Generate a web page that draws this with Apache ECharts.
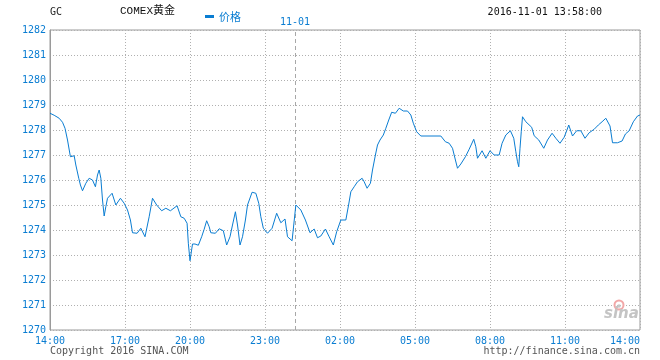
<!DOCTYPE html>
<html>
<head>
<meta charset="utf-8">
<script src="https://cdn.jsdelivr.net/npm/echarts@6/dist/echarts.min.js"></script>
<style>html,body{margin:0;padding:0;background:#fff;}#c{width:660px;height:360px;}</style>
</head>
<body>
<div id="c"></div>
<script>
// trading-minute index since 14:00 (session has a short gap between 17:00 and 20:00)
var minuteIdx = [0,10,22,30,36,42,49,58,62,69,73,78,86,94,102,109,114,118,122,126,130,134,138,149,158,169,178,186,193,198,209,218,228,238,246,256,268,278,289,305,314,322,329,332,336,342,348,356,364,370,376,382,386,397,406,416,424,432,438,445,450,456,462,469,474,485,494,501,506,512,522,533,544,554,564,570,581,585,590,602,613,624,634,642,650,661,670,680,688,698,710,717,722,730,738,749,754,761,769,774,781,786,792,800,806,813,820,829,838,848,858,866,872,880,890,938,949,958,966,973,978,986,997,1006,1017,1022,1026,1037,1046,1056,1066,1078,1085,1094,1105,1113,1118,1122,1125,1128,1131,1134,1142,1156,1162,1173,1185,1194,1205,1214,1224,1234,1240,1245,1254,1264,1274,1284,1294,1306,1316,1325,1334,1344,1350,1362,1373,1381,1390,1400,1410,1416];
var price = [1278.67,1278.59,1278.47,1278.31,1278.07,1277.60,1276.93,1276.97,1276.60,1276.07,1275.80,1275.57,1275.87,1276.07,1276.00,1275.73,1276.20,1276.40,1276.07,1275.20,1274.56,1274.93,1275.27,1275.47,1275.00,1275.27,1275.07,1274.80,1274.40,1273.89,1273.87,1274.07,1273.73,1274.53,1275.27,1275.00,1274.77,1274.87,1274.77,1274.97,1274.53,1274.47,1274.27,1273.47,1272.77,1273.44,1273.44,1273.39,1273.73,1274.03,1274.37,1274.13,1273.89,1273.87,1274.05,1273.97,1273.40,1273.73,1274.20,1274.73,1274.20,1273.40,1273.73,1274.40,1275.00,1275.51,1275.47,1275.07,1274.53,1274.07,1273.87,1274.07,1274.67,1274.29,1274.44,1273.73,1273.57,1273.60,1275.00,1274.80,1274.40,1273.89,1274.04,1273.69,1273.76,1274.04,1273.73,1273.40,1273.93,1274.40,1274.40,1275.04,1275.53,1275.73,1275.93,1276.07,1275.93,1275.67,1275.87,1276.40,1277.00,1277.40,1277.60,1277.80,1278.07,1278.40,1278.71,1278.67,1278.87,1278.76,1278.76,1278.60,1278.27,1277.93,1277.76,1277.76,1277.53,1277.47,1277.27,1276.80,1276.47,1276.64,1276.93,1277.23,1277.63,1277.33,1276.87,1277.17,1276.87,1277.17,1277.00,1277.00,1277.47,1277.80,1277.97,1277.67,1277.13,1276.73,1276.53,1277.27,1277.93,1278.53,1278.33,1278.11,1277.77,1277.60,1277.27,1277.60,1277.87,1277.67,1277.47,1277.71,1277.97,1278.20,1277.76,1277.97,1277.97,1277.67,1277.89,1278.03,1278.20,1278.33,1278.47,1278.16,1277.49,1277.49,1277.56,1277.84,1277.97,1278.33,1278.56,1278.60];
var tickValues = [0,180,336,516,696,876,1056,1236,1416];
var tickLabels = ['14:00','17:00','20:00','23:00','02:00','05:00','08:00','11:00','14:00'];
var dayBreakIdx = 588;
var dayBreakLabel = '11-01';

var BLUE = '#0a7dd2';
var MONO = "'DejaVu Sans Mono', monospace";
var seriesData = minuteIdx.map(function (m, i) { return [m, price[i]]; });
var labelMap = {};
tickValues.forEach(function (v, i) { labelMap[v] = tickLabels[i]; });

var chart = echarts.init(document.getElementById('c'), null, {renderer: 'canvas'});
chart.setOption({
  animation: false,
  backgroundColor: '#fff',
  grid: {left: 50, right: 20, top: 30, bottom: 30, show: true, borderColor: '#9a9a9a', borderWidth: 1},
  legend: {
    data: ['价格'], left: 200, top: 6, icon: 'rect', itemWidth: 9, itemHeight: 3, itemGap: 5,
    textStyle: {color: BLUE, fontSize: 11, fontFamily: "'Noto Sans CJK SC'"}
  },
  xAxis: {
    type: 'value', min: 0, max: 1416,
    axisLine: {show: false},
    axisTick: {show: false, customValues: tickValues},
    axisLabel: {
      customValues: tickValues, color: BLUE, fontSize: 10, fontFamily: MONO, margin: 6,
      alignMaxLabel: 'right',
      formatter: function (v) { return labelMap[v] || ''; }
    },
    splitLine: {show: true, lineStyle: {color: '#b0b0b0', type: [1, 2], width: 1}}
  },
  yAxis: {
    type: 'value', min: 1270, max: 1282, interval: 1,
    axisLine: {show: true, lineStyle: {color: '#9a9a9a'}},
    axisTick: {show: false},
    axisLabel: {color: BLUE, fontSize: 10, fontFamily: MONO, margin: 4,
      formatter: function (v) { return String(v); }},
    splitLine: {show: true, lineStyle: {color: '#b0b0b0', type: [1, 2], width: 1}}
  },
  graphic: [
    {type: 'text', left: 50, top: 7, style: {text: 'GC', fill: '#222', font: "10px 'DejaVu Sans Mono'"}},
    {type: 'text', left: 120, top: 6, style: {text: 'COMEX黄金', fill: '#111', font: "11px 'Liberation Mono', 'Noto Sans CJK SC'"}},
    {type: 'text', right: 58, top: 7, style: {text: '2016-11-01 13:58:00', fill: '#111', font: "10px 'DejaVu Sans Mono'"}},
    {type: 'text', left: 50, top: 346, style: {text: 'Copyright 2016 SINA.COM', fill: '#555', font: "10px 'DejaVu Sans Mono'"}},
    {type: 'text', right: 20, top: 346, style: {text: 'http://finance.sina.com.cn', fill: '#555', font: "10px 'DejaVu Sans Mono'"}},
    {type: 'circle', shape: {cx: 619, cy: 305, r: 4.5}, style: {fill: 'none', stroke: '#f2a7a7', lineWidth: 2}, z: 1},
    {type: 'circle', shape: {cx: 619, cy: 306, r: 1.8}, style: {fill: '#c8c8c8'}, z: 1},
    {type: 'text', left: 604, top: 307, style: {text: 'sina', fill: '#c4c4c4', font: "italic bold 15px 'DejaVu Sans'"}, z: 1}
  ],
  series: [{
    name: '价格', type: 'line', data: seriesData, showSymbol: false, symbol: 'none',
    lineStyle: {color: BLUE, width: 1}, itemStyle: {color: BLUE}, z: 5,
    markLine: {
      silent: true, symbol: ['none', 'none'],
      lineStyle: {color: '#a8a8a8', type: [4, 3], width: 1},
      label: {show: true, position: 'end', formatter: dayBreakLabel, color: BLUE, fontSize: 10, fontFamily: MONO, distance: 3},
      data: [{xAxis: dayBreakIdx}]
    }
  }]
});
</script>
</body>
</html>
